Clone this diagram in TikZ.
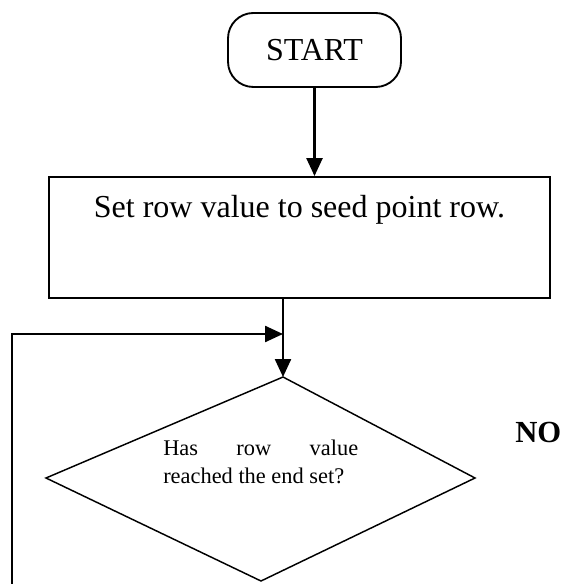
\documentclass[tikz,border=0pt]{standalone}
\usepackage{fontspec}
\setmainfont{Liberation Serif}
\usetikzlibrary{arrows.meta}
\begin{document}
\begin{tikzpicture}[x=0.75pt,y=-0.75pt,
  terminal/.style={draw, line width=1.4pt, rounded corners=19pt,
    minimum width=129.75pt, minimum height=55.5pt, inner sep=0pt,
    font=\fontsize{24}{28}\selectfont},
  process/.style={draw, line width=1.4pt, inner sep=0pt,
    minimum width=375.75pt, text height=30.75pt, text depth=60pt,
    font=\fontsize{24}{28}\selectfont},
  flow/.style={line width=1.8pt, -{Triangle[length=13.5pt,width=12pt]}},
  decision/.style={line width=1.1pt, line join=miter},
  plain/.style={inner sep=0pt, anchor=base west},
]
\useasboundingbox (0,0) rectangle (564,584);

% terminal and process boxes
\node[terminal] (start) at (314.5,50) {START};
\node[process] (setrow) at (299.5,237.5) {Set row value to seed point row.};

% decision diamond
\coordinate (dtop) at (283,377);
\coordinate (dright) at (475,478);
\coordinate (dbottom) at (261,581);
\coordinate (dleft) at (46,478);
\draw[decision] (dtop) -- (dright) -- (dbottom) -- (dleft) -- cycle;

\node[plain, font=\fontsize{16.8}{21}\selectfont] (ask) at (163,455)
  {\parbox[t]{146.25pt}{\tolerance=10000 Has row value\linebreak reached the end set?}};
\node[plain, font=\fontsize{23}{27}\selectfont\bfseries] (no) at (515,442) {NO};

% connectors
\coordinate (join) at (283,334);
\coordinate (loopend) at (12,584);
\draw[flow] (start.south) -- (start.south |- setrow.north);
\draw[flow] (setrow.south -| dtop) -- (dtop);
\draw[flow] (loopend) |- (join);
\end{tikzpicture}
\end{document}
